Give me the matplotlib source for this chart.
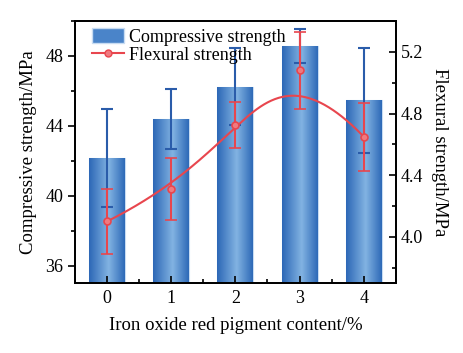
import matplotlib
matplotlib.use("Agg")
import matplotlib.pyplot as plt
import numpy as np
from matplotlib.colors import LinearSegmentedColormap
from matplotlib.ticker import MultipleLocator, FormatStrFormatter
from matplotlib.lines import Line2D
from matplotlib.patches import Patch

content = [0, 1, 2, 3, 4]
comp = [42.15, 44.4, 46.25, 48.57, 45.47]
comp_err = [2.8, 1.7, 2.2, 1.0, 3.0]
flex = [4.10, 4.31, 4.725, 5.08, 4.65]
flex_err = [0.21, 0.2, 0.15, 0.25, 0.22]

plt.rcParams['font.family'] = ['Liberation Serif', 'DejaVu Serif']
plt.rcParams['font.size'] = 13

blue = '#2a5caa'
red = '#e8464e'


def bspline(cx, cy, n=300):
    # clamped cubic B-spline with the data points as control points
    k = 3
    m = len(cx)
    inner = list(range(1, m - k))
    t = np.array([0] * (k + 1) + inner + [m - k] * (k + 1), dtype=float)
    u = np.linspace(0, m - k, n)
    u[-1] -= 1e-9

    def basis(i, p, x):
        if p == 0:
            return np.where((t[i] <= x) & (x < t[i + 1]), 1.0, 0.0)
        out = np.zeros_like(x)
        if t[i + p] != t[i]:
            out += (x - t[i]) / (t[i + p] - t[i]) * basis(i, p - 1, x)
        if t[i + p + 1] != t[i + 1]:
            out += (t[i + p + 1] - x) / (t[i + p + 1] - t[i + 1]) * basis(i + 1, p - 1, x)
        return out

    B = np.array([basis(i, k, u) for i in range(m)])
    return B.T @ np.array(cx, float), B.T @ np.array(cy, float)


fig = plt.figure(figsize=(4.64, 3.53), dpi=100)
ax = fig.add_axes([0.1616, 0.198, 0.6914, 0.7425])
ax.set_xlim(-0.5, 4.5)
ax.set_ylim(35, 50)

cmap = LinearSegmentedColormap.from_list(
    'barg', [(0, '#2c67b6'), (0.55, '#82b3e2'), (1, '#2d69b7')])
grad = np.linspace(0, 1, 256).reshape(1, -1)

bars = ax.bar(content, comp, width=0.56, color='#4f88cc', edgecolor='#c8dcf2',
              linewidth=0.8, zorder=1)
ybot = ax.get_ylim()[0]
for b in bars:
    x0, w, h = b.get_x(), b.get_width(), b.get_height()
    im = ax.imshow(grad, cmap=cmap, aspect='auto', interpolation='bilinear',
                   extent=[x0, x0 + w, ybot, h], zorder=1.5)
    im.set_clip_path(b)

ax.errorbar(content, comp, yerr=comp_err, fmt='none', ecolor=blue,
            elinewidth=1.5, capsize=4, capthick=1.5, zorder=3)

ax.set_xlim(-0.5, 4.5)
ax.set_ylim(35, 50)
ax.set_xticks(content)
ax.xaxis.set_minor_locator(MultipleLocator(0.5))
ax.yaxis.set_major_locator(MultipleLocator(4))
ax.yaxis.set_minor_locator(MultipleLocator(2))
ax.tick_params(axis='x', which='both', direction='in', length=5, width=1.2, pad=5)
ax.tick_params(axis='x', which='minor', length=3)
ax.tick_params(axis='y', which='both', direction='out', length=5, width=1.2)
ax.tick_params(axis='y', which='minor', length=3)
ax.set_xlabel('Iron oxide red pigment content/%', fontsize=13.5, labelpad=7)
ax.set_ylabel('Compressive strength/MPa', fontsize=13.5, labelpad=6)

ax2 = ax.twinx()
sx, sy = bspline(content, flex)
ax2.plot(sx, sy, color=red, lw=1.5, zorder=4)
ax2.errorbar(content, flex, yerr=flex_err, fmt='o', color=red, ms=5,
             mfc='#f07a80', mec=red, mew=1.2, ecolor=red, elinewidth=1.5,
             capsize=4, capthick=1.5, zorder=5)
ax2.set_ylim(3.7, 5.4)
ax2.yaxis.set_major_locator(MultipleLocator(0.4))
ax2.yaxis.set_minor_locator(MultipleLocator(0.2))
ax2.yaxis.set_major_formatter(FormatStrFormatter('%.1f'))
ax2.tick_params(axis='y', which='both', direction='in', length=5, width=1.2)
ax2.tick_params(axis='y', which='minor', length=3)
ax2.set_ylabel('Flexural strength/MPa', fontsize=13.5, rotation=270, labelpad=18)

for a in (ax, ax2):
    for s in a.spines.values():
        s.set_linewidth(1.3)

handles = [Patch(facecolor='#4a84c9', edgecolor='#c8dcf2'),
           Line2D([0], [0], color=red, lw=1.5, marker='o', ms=5,
                  mfc='#f07a80', mec=red)]
ax2.legend(handles, ['Compressive strength', 'Flexural strength'],
           loc='upper left', frameon=False, fontsize=13,
           handlelength=1.75, handleheight=0.9, handletextpad=0.3,
           labelspacing=0.05, borderaxespad=0.2, bbox_to_anchor=(0.02, 1.015))

fig.savefig('out.png', dpi=100)
